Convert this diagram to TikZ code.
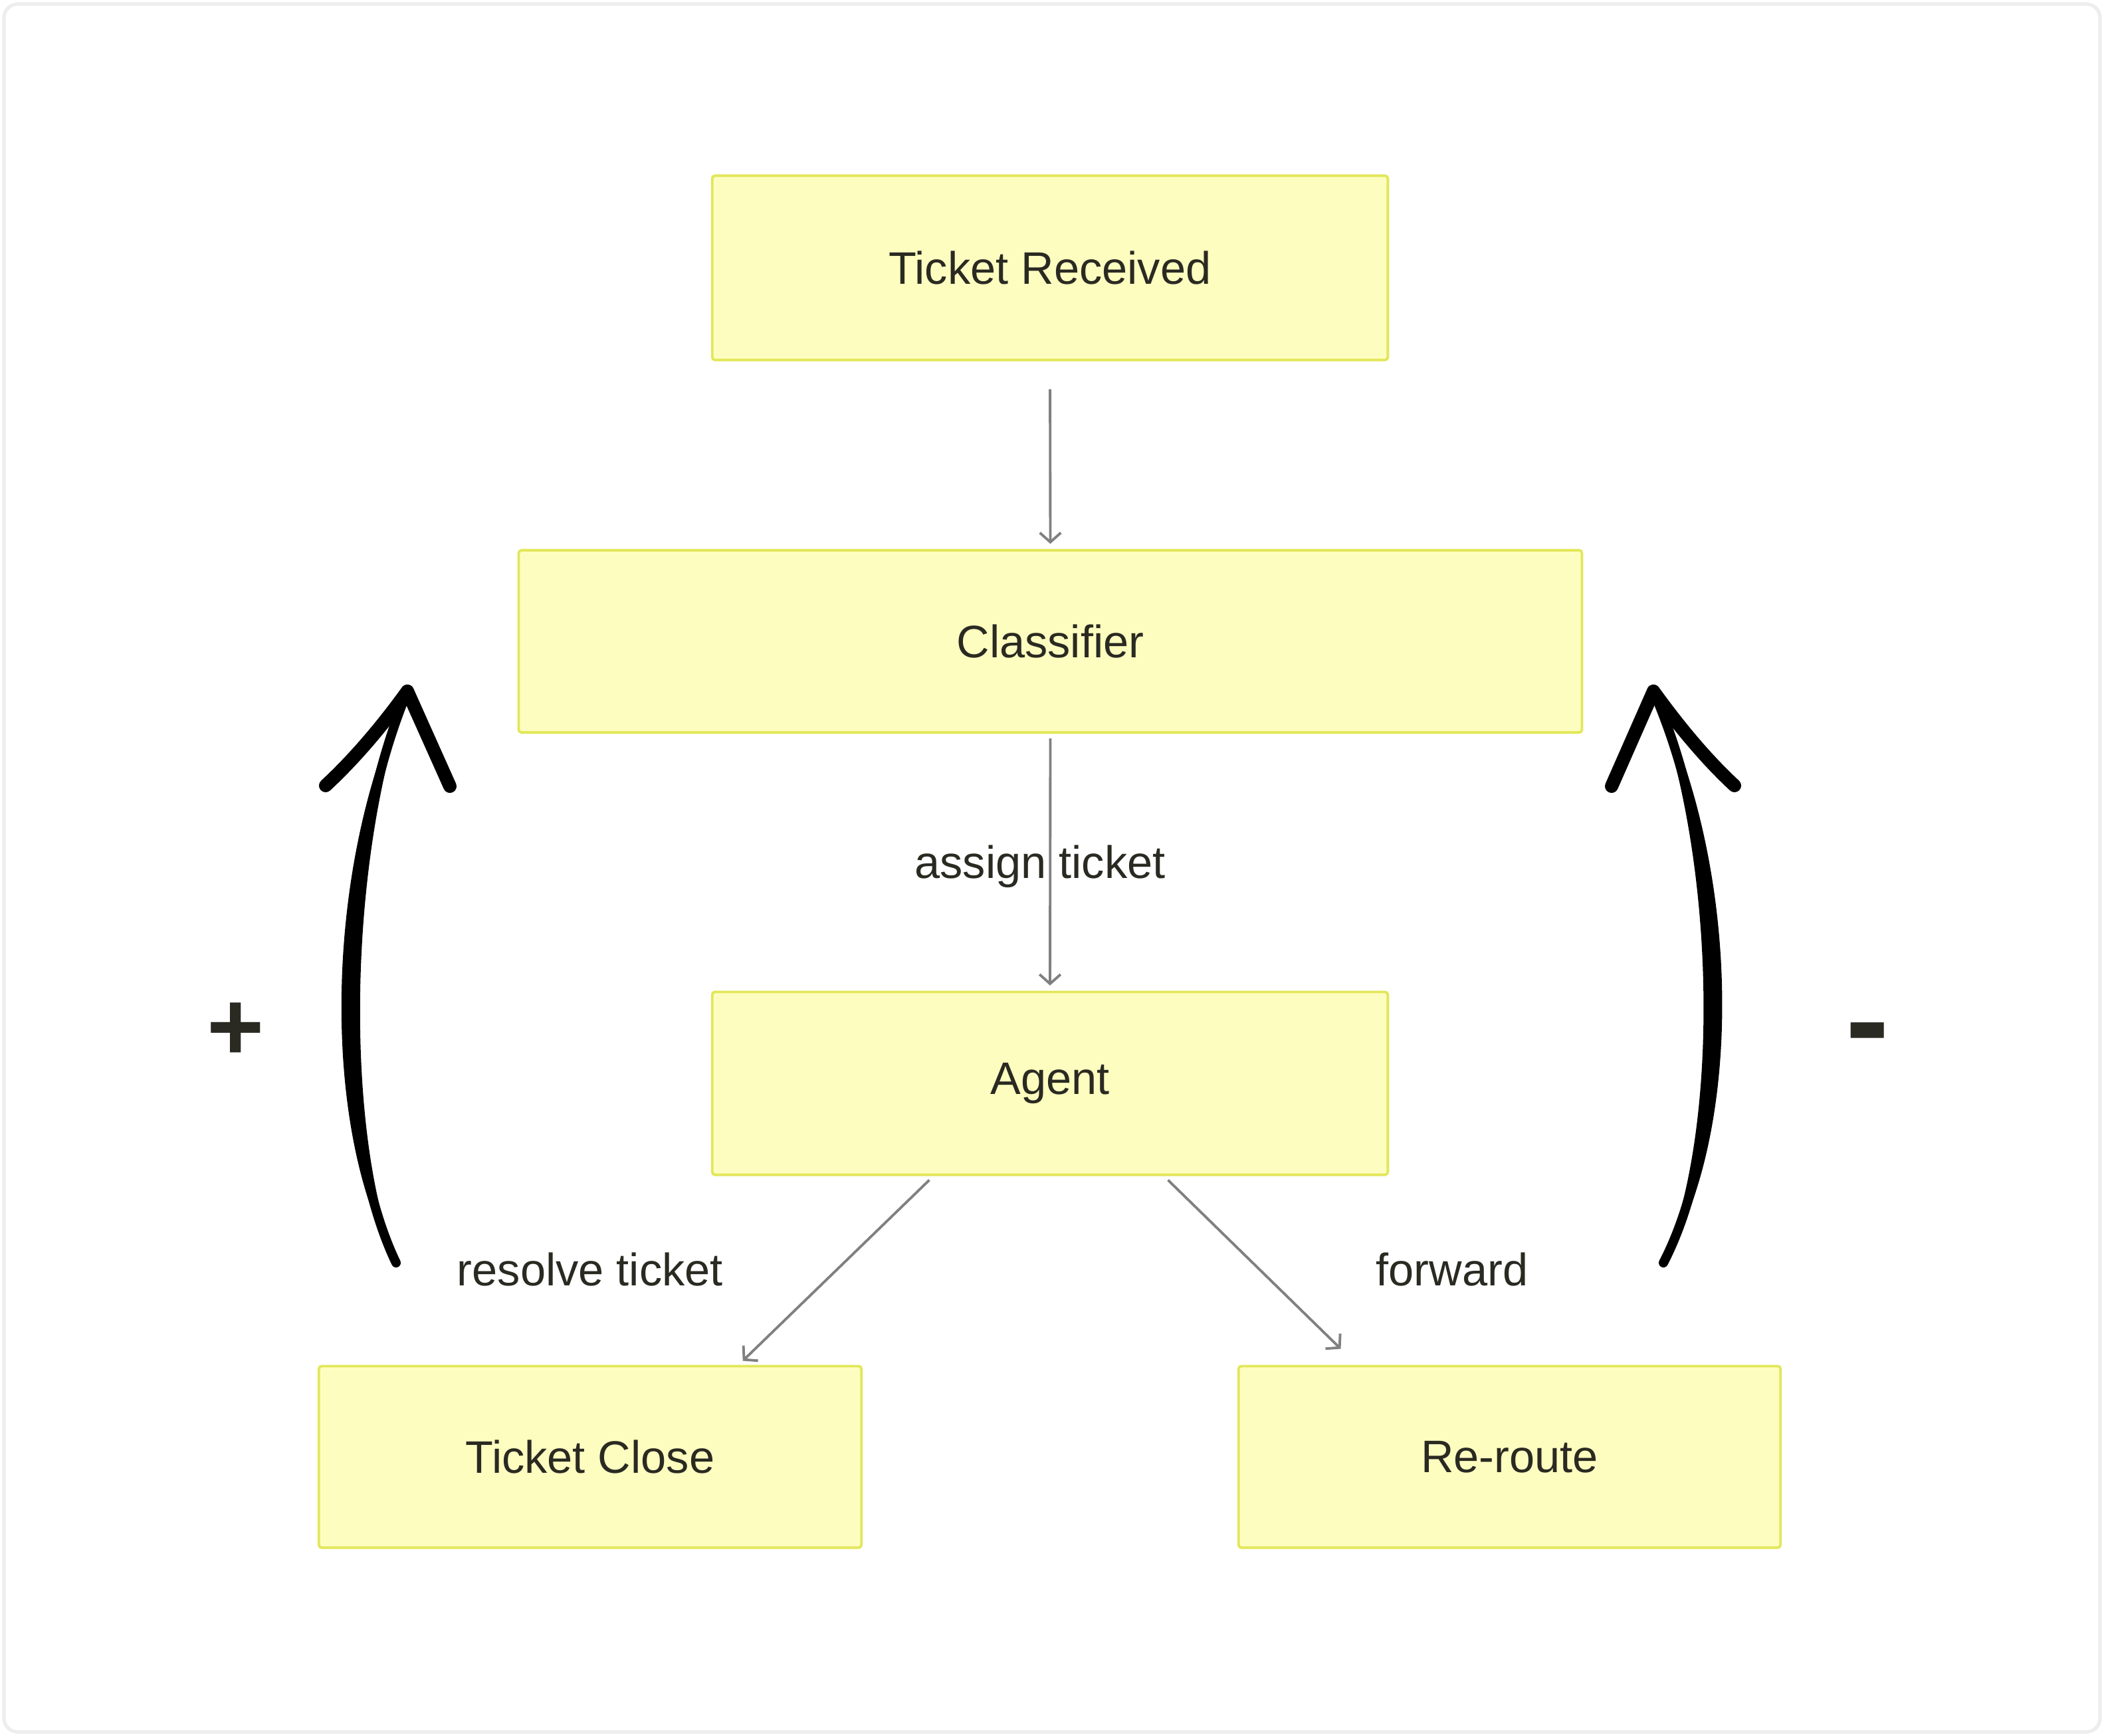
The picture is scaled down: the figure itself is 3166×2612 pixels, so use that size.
\documentclass[tikz,border=0pt]{standalone}
\usepackage{fontspec}
\setmainfont{Liberation Sans}
\usetikzlibrary{arrows.meta,calc}
\definecolor{boxfill}{HTML}{FEFDC0}
\definecolor{boxline}{HTML}{E2E75A}
\definecolor{txt}{HTML}{2A2A22}
\definecolor{conn}{HTML}{808080}
\definecolor{frame}{HTML}{EDEDED}
\tikzset{
  stepbox/.style={draw=boxline, fill=boxfill, line width=1.1pt, rounded corners=1.2pt,
    text=txt, font=\fontsize{19.5}{23}\selectfont, inner sep=0pt},
  conn/.style={draw=conn, line width=1.1pt, -{Straight Barb[length=4pt,width=9pt,line width=1.1pt]}},
  lbl/.style={text=txt, font=\fontsize{19.5}{23}\selectfont, inner sep=0pt},
  sign/.style={text=txt, font=\bfseries\fontsize{42}{46}\selectfont, inner sep=0pt},
  bigshaft/.style={fill=black, draw=black, line width=0.5pt, line join=round},
  bigcore/.style={draw=black, line width=4pt, line cap=round},
  bighead/.style={draw=black, line width=5.7pt, line cap=round, line join=round},
}
\begin{document}
\begin{tikzpicture}[x=0.01cm, y=-0.01cm]
\useasboundingbox (0,0) rectangle (3166,2612);
\draw[frame, line width=1.5pt, rounded corners=6pt] (6,6) rectangle (3160,2606);

\node[stepbox, minimum width=10.16cm, minimum height=2.77cm] (tr) at (1580,403) {Ticket Received};
\node[stepbox, minimum width=15.99cm, minimum height=2.74cm] (cl) at (1580.5,965) {Classifier};
\node[stepbox, minimum width=10.16cm, minimum height=2.75cm] (ag) at (1580,1630) {Agent};
\node[stepbox, minimum width=8.16cm, minimum height=2.73cm] (tc) at (888,2192) {Ticket Close};
\node[stepbox, minimum width=8.15cm, minimum height=2.73cm] (rr) at (2271.5,2192) {Re-route};

\draw[conn, shorten <=12pt, shorten >=2.2pt] (tr.south) -- (cl.north);
\draw[conn, shorten <=2pt, shorten >=2.2pt] (cl.south) -- (ag.north);
\node[lbl] (assign) at (1565,1304) {assign ticket};

\coordinate (agL) at ($(ag.south west)!0.322!(ag.south east)+(0,6)$);
\coordinate (agR) at ($(ag.south west)!0.674!(ag.south east)+(0,6)$);
\coordinate (tcT) at ($(tc.north west)!0.78!(tc.north east)+(0,-6)$);
\coordinate (rrT) at ($(rr.north west)!0.19!(rr.north east)+(0,-24)$);
\draw[conn] (agL) -- (tcT);
\draw[conn] (agR) -- (rrT);
\node[lbl] (resolve) at (888,1910) {resolve ticket};
\node[lbl] (fwd) at (2185,1910) {forward};

% left big arrow (+)
\coordinate (ltail) at (596,1900);
\coordinate (ltip) at (613,1040);
\path[bigshaft] (ltail) .. controls (482,1700) and (488,1300) .. (ltip)
  .. controls (522,1300) and (518,1700) .. (ltail) -- cycle;
\draw[bigcore] (ltail) .. controls (500,1700) and (505,1300) .. (ltip);
\coordinate (lh1) at (490,1182);
\coordinate (lh2) at (677,1183);
\draw[bighead] (lh1) .. controls (533,1142) and (574,1094) .. (ltip) -- (lh2);
\node[sign] (plus) at (355,1552) {+};

% right big arrow (-)
\coordinate (rtail) at (2503,1900);
\coordinate (rtip) at (2488,1040);
\path[bigshaft] (rtail) .. controls (2625,1700) and (2619,1300) .. (rtip)
  .. controls (2585,1300) and (2589,1700) .. (rtail) -- cycle;
\draw[bigcore] (rtail) .. controls (2607,1700) and (2602,1300) .. (rtip);
\coordinate (rh1) at (2425,1183);
\coordinate (rh2) at (2610,1182);
\draw[bighead] (rh1) -- (rtip) .. controls (2527,1094) and (2567,1142) .. (rh2);
\node[sign, font=\bfseries\fontsize{56}{60}\selectfont] (minus) at (2810,1570) {-};
\end{tikzpicture}
\end{document}
